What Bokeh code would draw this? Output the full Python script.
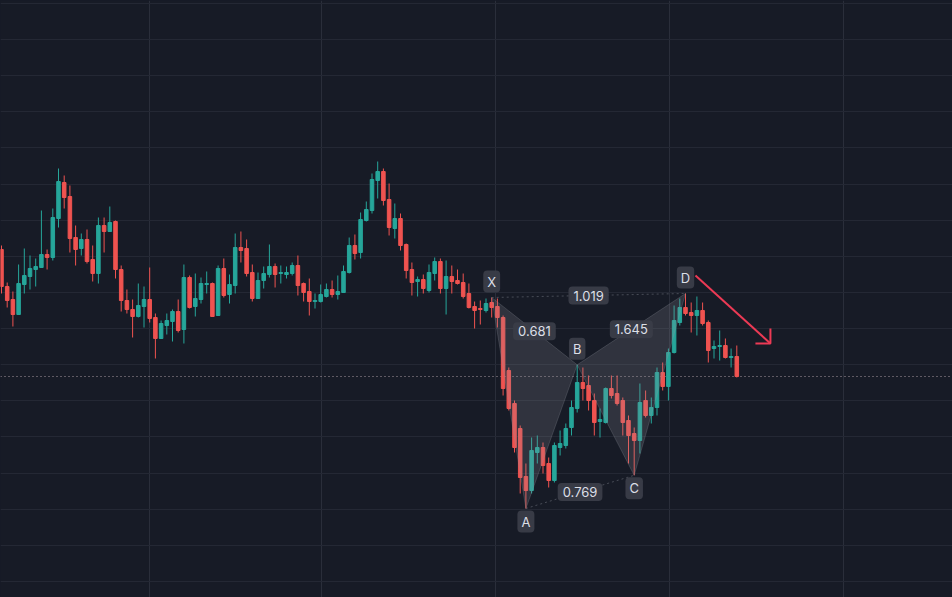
import numpy as np
from bokeh.plotting import figure
from bokeh.models import Range1d, FixedTicker, Span, ColumnDataSource
from bokeh.core.properties import value
from bokeh.embed import file_html
from bokeh.resources import INLINE

# ---------------- data ----------------
opens = [351, 314, 301, 286, 316, 324, 331, 333, 346, 343,
         382, 418, 404, 363, 352, 361, 341, 327, 375, 369,
         379, 331, 300, 291, 284, 294, 301, 283, 262, 275,
         279, 289, 271, 323, 294, 301, 316, 317, 285, 332,
         306, 315, 353, 352, 328, 302, 320, 326, 334, 327,
         326, 327, 335, 317, 309, 299, 299, 304, 311, 306,
         308, 328, 355, 348, 380, 390, 420, 429, 401, 372,
         382, 356, 331, 319, 321, 310, 327, 339, 312, 324,
         320, 318, 307, 294, 292, 290, 298, 294, 283, 230,
         197, 172, 124, 110, 148, 153, 137, 120, 153, 155,
         173, 192, 218, 215, 200, 179, 178, 212, 207, 200,
         180, 167, 160, 200, 185, 193, 228, 214, 248, 278,
         293, 288, 285, 290, 278, 252, 254, 255, 243, 244]
highs = [355, 318, 309, 336, 352, 345, 342, 390, 351, 392,
         432, 425, 415, 375, 367, 371, 355, 383, 383, 394,
         380, 335, 311, 301, 317, 314, 333, 287, 280, 287,
         291, 301, 336, 325, 327, 323, 329, 318, 335, 342,
         326, 367, 369, 361, 336, 328, 334, 356, 337, 335,
         334, 338, 345, 318, 322, 307, 316, 317, 320, 325,
         335, 363, 366, 388, 399, 427, 439, 432, 417, 397,
         387, 357, 338, 324, 326, 336, 343, 342, 340, 335,
         331, 327, 317, 299, 300, 302, 303, 302, 285, 233,
         200, 175, 137, 163, 165, 158, 143, 158, 170, 177,
         200, 235.7, 233, 225, 207, 192, 213, 225, 225, 203,
         185, 173, 217, 210, 203, 233, 238, 252, 295, 302,
         307, 298, 304, 298, 280, 260, 270, 262, 252, 255]
lows = [307, 293, 274, 286, 307, 311, 314, 333, 331, 340,
        373, 392, 348, 335, 345, 337, 319, 317, 348, 369,
        322, 289, 287, 263, 283, 273, 278, 242, 262, 266,
        259, 268, 257, 292, 284, 297, 307, 284, 285, 303,
        297, 307, 338, 324, 299, 302, 312, 323, 313, 317,
        322, 325, 305, 299, 285, 292, 298, 303, 303, 301,
        308, 327, 341, 342, 379, 387, 402, 395, 365, 362,
        350, 322, 305, 304, 307, 308, 320, 307, 286, 307,
        316, 302, 292, 272, 276, 288, 283, 273, 205, 190,
        148, 107, 92, 107, 137, 127, 113, 118, 145, 152,
        165, 188, 200, 190, 165, 163, 177, 202, 195, 165,
        137, 125.2, 147, 183, 177, 185, 210, 200, 247, 275,
        285, 268, 265, 275, 238, 242, 240, 242, 233, 223]
closes = [314, 300, 286, 317, 325, 332, 334, 346, 343, 383,
          419, 403, 362, 351, 361, 339, 327, 375, 369, 378,
          331, 300, 291, 284, 295, 301, 282, 262, 277, 280,
          289, 270, 323, 293, 302, 317, 317, 284, 332, 305,
          316, 353, 350, 327, 302, 320, 327, 334, 326, 328,
          328, 335, 315, 308, 299, 300, 306, 311, 306, 309,
          329, 355, 347, 381, 391, 421, 429, 400, 373, 382,
          355, 330, 318, 321, 312, 328, 339, 312, 324, 319,
          317, 304, 293, 290, 291, 297, 293, 283, 212, 192,
          153, 123, 110, 150, 153, 135, 120, 155, 157, 172,
          193, 218, 212, 200, 178, 181, 212, 205, 197, 178,
          165, 160, 198, 185, 193, 228, 214, 248, 280, 293,
          287, 285, 290, 277, 250, 254, 255, 243, 244, 224]

pivot_names = ["X", "A", "B", "C", "D"]
pivot_bars = [86, 92, 101, 111, 120]
pivot_sides = ["high", "low", "high", "low", "high"]
ratio_texts = ["0.681", "0.769", "1.645", "1.019"]
ratio_legs = [("X", "B"), ("A", "C"), ("B", "D"), ("X", "D")]
arrow_start = (121.75, 325)
arrow_end = (134.9, 257)

# ---------------- styling ----------------
BG = "#171b26"
GRID = "#242834"
UP = "#26a69a"
DOWN = "#ef5350"
LABEL_BG = "#3a3d48"
LABEL_TXT = "#dcdfe6"
FONT = value("Inter")
W, H = 952, 597
PX_PER_BAR = 5.7

n = len(opens)
idx = np.arange(n)
o = np.array(opens, float); h = np.array(highs, float)
l = np.array(lows, float); c = np.array(closes, float)
up = c >= o
colors = np.where(up, UP, DOWN)

src = ColumnDataSource(dict(x=idx, o=o, h=h, l=l, c=c,
                            top=np.maximum(o, c), bot=np.minimum(o, c),
                            color=colors))

p = figure(width=W, height=H, output_backend="svg", toolbar_location=None,
           x_range=Range1d(-1 / PX_PER_BAR, (W - 1) / PX_PER_BAR),
           y_range=Range1d(600 - H, 600),
           x_axis_location=None, y_axis_location=None,
           background_fill_color=BG, border_fill_color=BG, min_border=0)
p.outline_line_color = None
p.xgrid.ticker = FixedTicker(ticks=[(px - 1) / PX_PER_BAR for px in (149, 321, 495, 669, 843)])
p.ygrid.ticker = FixedTicker(ticks=list(19 + 36.13 * np.arange(17)))
p.xgrid.grid_line_color = "#2a2e3a"
p.ygrid.grid_line_color = GRID
p.xgrid.grid_line_width = 1
p.ygrid.grid_line_width = 1

# last price line
p.add_layout(Span(location=closes[-1], dimension="width", line_color="#cdb9c0",
                  line_dash="1 3", line_width=1, line_alpha=0.8, level="underlay"))

# candles
p.segment(x0="x", y0="l", x1="x", y1="h", color="color", line_width=1, source=src)
p.vbar(x="x", width=0.62, top="top", bottom="bot", fill_color="color",
       line_color="color", line_width=1, source=src)

# harmonic pattern
pv = {}
for name, b, side in zip(pivot_names, pivot_bars, pivot_sides):
    pv[name] = (float(b), highs[b] if side == "high" else lows[b])

tri_xs = [[pv[k][0] for k in ("X", "A", "B")], [pv[k][0] for k in ("B", "C", "D")]]
tri_ys = [[pv[k][1] for k in ("X", "A", "B")], [pv[k][1] for k in ("B", "C", "D")]]
p.patches(tri_xs, tri_ys, fill_color="#9598a1", fill_alpha=0.2,
          line_color="#9598a1", line_alpha=0.25, line_width=1)

for a, b in (("X", "D"), ("A", "C")):
    p.line([pv[a][0], pv[b][0]], [pv[a][1], pv[b][1]], line_color="#787b86",
           line_alpha=0.5, line_dash="2 3", line_width=1)

# arrow
p.line([arrow_start[0], arrow_end[0]], [arrow_start[1], arrow_end[1]],
       line_color="#ec3a55", line_width=2)
head = 15
p.line([arrow_end[0] - head / PX_PER_BAR, arrow_end[0], arrow_end[0]],
       [arrow_end[1], arrow_end[1], arrow_end[1] + head],
       line_color="#ec3a55", line_width=2)

# ratio labels
rx = [(pv[a][0] + pv[b][0]) / 2 for a, b in ratio_legs]
ry = [(pv[a][1] + pv[b][1]) / 2 for a, b in ratio_legs]
p.text(x=rx, y=ry, text=ratio_texts, text_font=FONT, text_font_size="13px",
       text_color=LABEL_TXT, text_align="center", text_baseline="middle",
       background_fill_color=LABEL_BG, background_fill_alpha=0.95,
       padding=(5, 4), border_radius=4)

# pivot letters
lx = [pv[k][0] for k in pivot_names]
ly = [pv[k][1] for k in pivot_names]
loff = [-16 if s == "high" else 13 for s in pivot_sides]
p.text(x=lx, y=ly, text=pivot_names, y_offset=loff, text_font=FONT,
       text_font_size="13px", text_color=LABEL_TXT, text_align="center",
       text_baseline="middle", background_fill_color=LABEL_BG,
       background_fill_alpha=0.95, padding=(4, 3), border_radius=4)

html = file_html(p, INLINE)
html = html.replace("</head>", "<style>html,body{background:#171b26;}</style></head>", 1)
open("out.html", "w").write(html)
